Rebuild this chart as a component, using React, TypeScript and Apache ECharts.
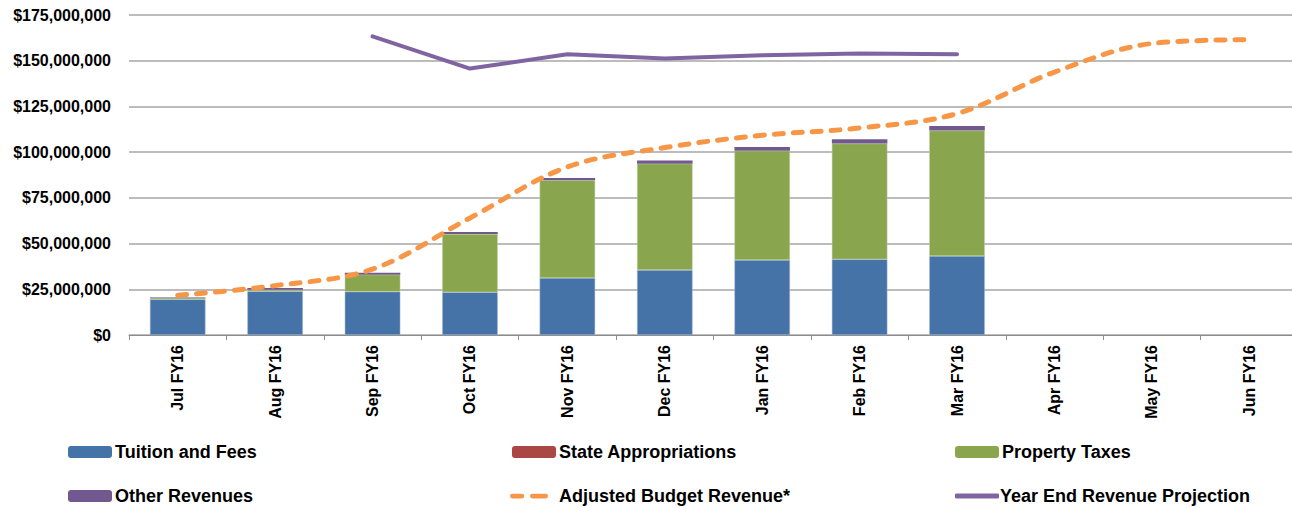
import React, { useEffect, useRef } from "react";
import * as echarts from "echarts";

const categories = ["Jul FY16", "Aug FY16", "Sep FY16", "Oct FY16", "Nov FY16", "Dec FY16", "Jan FY16", "Feb FY16", "Mar FY16", "Apr FY16", "May FY16", "Jun FY16"];
const tuitionAndFees = [19.5, 23.9, 23.7, 23.4, 31.2, 35.5, 41.0, 41.4, 43.2, null, null, null].map((v) => (v == null ? null : v * 1e6));
const stateAppropriations = [0, 0, 0, 0, 0, 0, 0, 0, 0, null, null, null];
const propertyTaxes = [0.9, 0.9, 9.3, 31.8, 53.4, 58.2, 59.8, 63.3, 68.6, null, null, null].map((v) => (v == null ? null : v * 1e6));
const otherRevenues = [0.3, 0.9, 1.1, 1.1, 1.3, 1.7, 2.0, 2.3, 2.5, null, null, null].map((v) => (v == null ? null : v * 1e6));
const adjustedBudgetRevenue = [21.7, 27.0, 36.0, 64.0, 91.9, 102.5, 109.2, 113.2, 121.1, 143.8, 159.4, 161.5].map((v) => v * 1e6);
const yearEndProjection = [null, null, 163.3, 145.7, 153.5, 151.2, 153.0, 153.9, 153.6, null, null, null].map((v) => (v == null ? null : v * 1e6));

const FONT = "'Liberation Sans', Arial, sans-serif";

const fmt = (v: number) => "$" + Math.round(v).toLocaleString("en-US");

export default function App() {
  const ref = useRef<HTMLDivElement>(null);
  useEffect(() => {
    if (!ref.current) return;
    const chart = echarts.init(ref.current, null, { renderer: "svg" });
    const legendText = { fontFamily: FONT, fontWeight: "bold" as const, fontSize: 18, color: "#000" };
    const mkLegend = (name: string, left: number, top: number, extra: any = {}) => ({
      data: [extra.icon ? { name, icon: extra.icon } : name],
      left,
      top,
      itemWidth: extra.w ?? 44,
      itemHeight: extra.h ?? 12,
      itemGap: 4,
      itemStyle: { borderWidth: 0 },
      textStyle: { ...legendText, padding: [0, 0, 0, extra.pad ?? -2] },
      padding: 0,
    });
    chart.setOption({
      animation: false,
      backgroundColor: "#fff",
      grid: { left: 129, right: 8, top: 15, bottom: 173, containLabel: false },
      legend: [
        mkLegend("Tuition and Fees", 68, 443),
        mkLegend("State Appropriations", 512, 443),
        mkLegend("Property Taxes", 955, 443),
        mkLegend("Other Revenues", 68, 487),
        mkLegend("Adjusted Budget Revenue*", 510, 487, {
          icon: "path://M2,0h10a2,2 0 0 1 0,5h-10a2,2 0 0 1 0,-5z M23,0h14a2,2 0 0 1 0,5h-14a2,2 0 0 1 0,-5z",
          w: 38,
          h: 5,
          pad: 6,
        }),
        mkLegend("Year End Revenue Projection", 955, 487, {
          icon: "roundRect",
          w: 44,
          h: 5,
          pad: -4,
        }),
      ],
      xAxis: {
        type: "category",
        data: categories,
        axisLine: { lineStyle: { color: "#8c8c8c", width: 1 } },
        axisTick: { show: true, length: 5, lineStyle: { color: "#8c8c8c" } },
        axisLabel: {
          rotate: 90,
          margin: 10,
          fontFamily: FONT,
          fontWeight: "bold",
          fontSize: 16,
          color: "#000",
          interval: 0,
        },
      },
      yAxis: {
        type: "value",
        min: 0,
        max: 175000000,
        interval: 25000000,
        axisLine: { show: false },
        axisTick: { show: false },
        splitLine: { lineStyle: { color: "#a6a6a6", width: 1.5 } },
        axisLabel: {
          margin: 18,
          fontFamily: FONT,
          fontWeight: "bold",
          fontSize: 16,
          color: "#000",
          formatter: (v: number) => fmt(v),
        },
      },
      series: [
        {
          name: "Tuition and Fees",
          type: "bar",
          stack: "rev",
          barWidth: "57%",
          data: tuitionAndFees,
          itemStyle: { color: "#4573a7", borderColor: "#a9bcd6", borderWidth: 0.5 },
        },
        {
          name: "State Appropriations",
          type: "bar",
          stack: "rev",
          barWidth: "57%",
          data: stateAppropriations,
          itemStyle: { color: "#aa4643" },
        },
        {
          name: "Property Taxes",
          type: "bar",
          stack: "rev",
          barWidth: "57%",
          data: propertyTaxes,
          itemStyle: { color: "#89a54e", borderColor: "#c3d2a6", borderWidth: 0.5 },
        },
        {
          name: "Other Revenues",
          type: "bar",
          stack: "rev",
          barWidth: "57%",
          data: otherRevenues,
          itemStyle: { color: "#71588f" },
        },
        {
          name: "Adjusted Budget Revenue*",
          type: "line",
          data: adjustedBudgetRevenue,
          smooth: 0.35,
          symbol: "none",
          itemStyle: { color: "#f79646" },
          lineStyle: { color: "#f79646", width: 5, type: [9, 10], cap: "round" },
          z: 3,
        },
        {
          name: "Year End Revenue Projection",
          type: "line",
          data: yearEndProjection,
          symbol: "none",
          itemStyle: { color: "#8064a2" },
          lineStyle: { color: "#8064a2", width: 4, cap: "round", join: "round" },
          z: 4,
        },
      ],
    });
    return () => chart.dispose();
  }, []);
  return (
    <div style={{ position: "absolute", left: 0, top: 0, width: 1292, height: 508, overflow: "hidden" }}>
      <div ref={ref} style={{ width: 1306, height: 508 }} />
    </div>
  );
}
